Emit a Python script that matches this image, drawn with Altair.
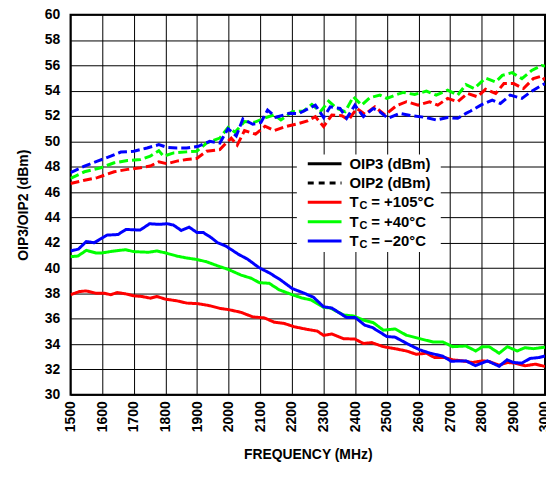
import altair as alt
import pandas as pd

FONT = "Liberation Sans"

temps = ["+105", "+40", "-20"]
colors = ["#FF0000", "#00FF00", "#0000FF"]

# OIP3 (solid)
r3_f = [1500, 1528, 1549, 1580, 1606, 1627, 1648, 1674, 1700, 1726, 1752, 1773, 1800, 1836, 1867, 1904, 1940, 1972, 2000, 2039, 2076, 2113, 2144, 2176, 2207, 2249, 2280, 2300, 2326, 2363, 2399, 2426, 2452, 2489, 2530, 2562, 2593, 2625, 2651, 2682, 2708, 2739, 2771, 2802, 2823, 2855, 2881, 2906, 2937, 2969, 3000]
r3_v = [37.9, 38.15, 38.2, 38.02, 38.02, 37.9, 38.07, 37.97, 37.81, 37.76, 37.63, 37.76, 37.55, 37.42, 37.24, 37.19, 37.03, 36.82, 36.72, 36.51, 36.15, 36.07, 35.73, 35.63, 35.37, 35.16, 35.03, 34.69, 34.8, 34.43, 34.4, 34.05, 34.12, 33.8, 33.62, 33.46, 33.2, 33.28, 32.94, 32.94, 32.76, 32.68, 32.55, 32.68, 32.63, 32.34, 32.55, 32.5, 32.29, 32.42, 32.24]

g3_f = [1500, 1523, 1550, 1580, 1600, 1638, 1674, 1700, 1747, 1773, 1800, 1836, 1867, 1899, 1930, 1967, 1998, 2039, 2071, 2097, 2128, 2160, 2201, 2233, 2259, 2300, 2321, 2363, 2394, 2426, 2457, 2489, 2526, 2562, 2604, 2646, 2677, 2708, 2750, 2781, 2802, 2823, 2855, 2881, 2912, 2937, 2963, 3000]
g3_v = [40.9, 40.95, 41.4, 41.2, 41.2, 41.35, 41.45, 41.3, 41.25, 41.35, 41.2, 40.95, 40.8, 40.68, 40.5, 40.16, 39.9, 39.45, 39.2, 38.85, 38.8, 38.28, 37.9, 37.63, 37.5, 36.9, 36.85, 36.3, 36.22, 35.9, 35.7, 35.1, 35.2, 34.7, 34.43, 34.17, 34.17, 33.8, 33.85, 33.46, 33.8, 33.8, 33.28, 33.8, 33.46, 33.72, 33.64, 33.76]

b3_f = [1500, 1525, 1550, 1575, 1615, 1650, 1675, 1720, 1750, 1780, 1805, 1825, 1850, 1875, 1900, 1920, 1945, 1965, 1990, 2015, 2030, 2060, 2095, 2130, 2165, 2200, 2220, 2240, 2268, 2300, 2326, 2373, 2400, 2430, 2455, 2500, 2526, 2567, 2604, 2635, 2677, 2703, 2750, 2780, 2818, 2855, 2880, 2900, 2927, 2953, 2980, 3000]
b3_v = [41.35, 41.5, 42.1, 42.0, 42.6, 42.65, 43.05, 43.0, 43.5, 43.45, 43.5, 43.4, 42.97, 43.23, 42.8, 42.8, 42.4, 42.0, 41.75, 41.35, 41.1, 40.7, 40.05, 39.6, 39.05, 38.4, 38.2, 38.0, 37.7, 36.95, 36.85, 36.1, 36.1, 35.5, 35.3, 34.6, 34.55, 34.0, 33.55, 33.3, 33.05, 32.65, 32.68, 32.3, 32.68, 32.25, 32.76, 32.55, 32.5, 32.87, 32.94, 33.07]

# OIP2 (dashed)
r2_f = [1500, 1544, 1585, 1638, 1680, 1721, 1752, 1779, 1805, 1836, 1867, 1899, 1930, 1972, 1992, 2008, 2027, 2050, 2085, 2115, 2144, 2180, 2217, 2249, 2274, 2300, 2326, 2358, 2379, 2405, 2431, 2462, 2494, 2530, 2562, 2599, 2635, 2661, 2692, 2724, 2755, 2786, 2812, 2844, 2870, 2901, 2932, 2963, 2990, 3000]
r2_v = [46.67, 46.93, 47.14, 47.6, 47.79, 47.92, 48.05, 48.39, 48.23, 48.44, 48.57, 48.65, 49.22, 49.35, 49.87, 50.26, 49.7, 50.85, 50.57, 51.2, 50.85, 51.17, 51.38, 51.61, 51.95, 51.17, 52.08, 52.03, 51.69, 52.6, 52.14, 52.73, 52.08, 52.81, 53.13, 52.86, 53.13, 52.86, 53.39, 53.13, 53.78, 53.52, 54.11, 53.78, 54.56, 54.56, 54.17, 54.95, 55.16, 54.82]

g2_f = [1500, 1544, 1596, 1638, 1680, 1721, 1752, 1779, 1794, 1826, 1867, 1899, 1930, 1972, 1998, 2020, 2050, 2081, 2110, 2144, 2165, 2201, 2237, 2263, 2290, 2316, 2342, 2368, 2394, 2420, 2446, 2478, 2500, 2526, 2552, 2588, 2625, 2656, 2692, 2724, 2750, 2776, 2812, 2844, 2865, 2896, 2927, 2958, 2990, 3000]
g2_v = [47.08, 47.6, 47.92, 48.31, 48.49, 48.57, 48.83, 49.27, 48.83, 49.09, 49.17, 49.22, 49.87, 50.26, 51.1, 50.72, 51.56, 51.5, 51.8, 52.1, 51.69, 52.34, 52.4, 52.92, 52.34, 53.18, 52.6, 52.34, 53.52, 52.86, 53.44, 53.65, 53.39, 53.65, 53.86, 53.7, 53.96, 53.65, 54.04, 53.65, 54.48, 54.17, 55.0, 54.69, 55.21, 55.42, 54.95, 55.6, 55.99, 55.94]

b2_f = [1500, 1544, 1585, 1627, 1659, 1700, 1742, 1779, 1805, 1836, 1867, 1904, 1940, 1972, 1998, 2024, 2045, 2076, 2102, 2123, 2149, 2191, 2222, 2274, 2300, 2321, 2352, 2373, 2399, 2426, 2457, 2478, 2504, 2541, 2577, 2625, 2656, 2692, 2724, 2750, 2765, 2797, 2833, 2859, 2890, 2927, 2958, 2990, 3000]
b2_v = [47.53, 48.05, 48.44, 48.83, 49.16, 49.22, 49.48, 49.74, 49.53, 49.48, 49.48, 49.61, 50.0, 49.87, 51.0, 50.43, 51.77, 51.35, 51.5, 52.47, 51.9, 52.21, 52.2, 52.86, 51.88, 52.73, 52.6, 51.82, 52.86, 51.95, 52.6, 52.34, 51.82, 52.21, 52.03, 51.88, 51.69, 51.88, 51.82, 52.21, 52.4, 52.86, 53.26, 52.99, 53.65, 53.39, 53.96, 54.43, 54.56]

x_ticks = list(range(1500, 3001, 100))
y_ticks = list(range(30, 61, 2))

rows = []
for temp, metric, fs, vs in [
    ("+105", "OIP3", r3_f, r3_v), ("+40", "OIP3", g3_f, g3_v), ("-20", "OIP3", b3_f, b3_v),
    ("+105", "OIP2", r2_f, r2_v), ("+40", "OIP2", g2_f, g2_v), ("-20", "OIP2", b2_f, b2_v),
]:
    for f, v in zip(fs, vs):
        rows.append({"temp": temp, "metric": metric, "key": temp + metric, "freq": f, "value": v})
df = pd.DataFrame(rows)

lines = alt.Chart(df).mark_line(strokeWidth=3, clip=True).encode(
    x=alt.X("freq:Q", scale=alt.Scale(domain=[1500, 3000], nice=False, zero=False),
            axis=alt.Axis(values=x_ticks, format="d", title="FREQUENCY (MHz)",
                          labelAngle=270, labelAlign="right", labelBaseline="middle",
                          labelPadding=6, titlePadding=16)),
    y=alt.Y("value:Q", scale=alt.Scale(domain=[30, 60], nice=False, zero=False),
            axis=alt.Axis(values=y_ticks, format="d", title="OIP3/OIP2 (dBm)",
                          labelPadding=11, titlePadding=14)),
    color=alt.Color("temp:N", scale=alt.Scale(domain=temps, range=colors), legend=None),
    strokeDash=alt.StrokeDash("metric:N", scale=alt.Scale(domain=["OIP3", "OIP2"], range=[[1, 0], [9, 4]]), legend=None),
    detail="key:N",
    order=alt.Order("freq:Q"),
)

one = alt.Data(values=[{}])
layers = [lines]

# legend box
layers.append(alt.Chart(one).mark_rect(fill="white").encode(
    x=alt.value(228), x2=alt.value(373), y=alt.value(141), y2=alt.value(239)))

row_y = [150.3, 169.7, 189.0, 208.7, 228.0]
samples = [("#000000", [1, 0]), ("#000000", [6, 5]), colors[0], colors[1], colors[2]]
for i, s in enumerate(samples):
    if isinstance(s, tuple):
        col, dash = s
    else:
        col, dash = s, [1, 0]
    layers.append(alt.Chart(one).mark_rule(color=col, strokeWidth=3, strokeDash=dash).encode(
        x=alt.value(239), x2=alt.value(273), y=alt.value(row_y[i])))

txt = dict(font=FONT, fontWeight="bold", color="black", align="left", baseline="middle")
layers.append(alt.Chart(one).mark_text(text="OIP3 (dBm)", fontSize=15, **txt).encode(
    x=alt.value(281), y=alt.value(row_y[0])))
layers.append(alt.Chart(one).mark_text(text="OIP2 (dBm)", fontSize=15, **txt).encode(
    x=alt.value(281), y=alt.value(row_y[1])))
temp_labels = ["= +105°C", "= +40°C", "= \u221220°C"]
for i, lab in enumerate(temp_labels):
    y0 = row_y[2 + i]
    layers.append(alt.Chart(one).mark_text(text="T", fontSize=15, **txt).encode(
        x=alt.value(281), y=alt.value(y0)))
    layers.append(alt.Chart(one).mark_text(text="C", fontSize=11, **txt).encode(
        x=alt.value(291), y=alt.value(y0 + 4)))
    layers.append(alt.Chart(one).mark_text(text=lab, fontSize=15, **txt).encode(
        x=alt.value(303), y=alt.value(y0)))

chart = alt.layer(*layers).properties(
    width=478, height=383,
    autosize=alt.AutoSizeParams(type="none"),
    padding={"left": 63, "top": 5, "right": 1, "bottom": 68},
).configure_view(
    stroke="black", strokeWidth=2
).configure_axis(
    grid=True, gridColor="black", gridOpacity=1, gridWidth=1,
    domain=False, ticks=False,
    labelFont=FONT, labelFontSize=14, labelFontWeight="bold", labelColor="black",
    titleFont=FONT, titleFontSize=14, titleFontWeight="bold", titleColor="black",
)

chart.save("out.html", embed_options={"renderer": "svg", "actions": False})
